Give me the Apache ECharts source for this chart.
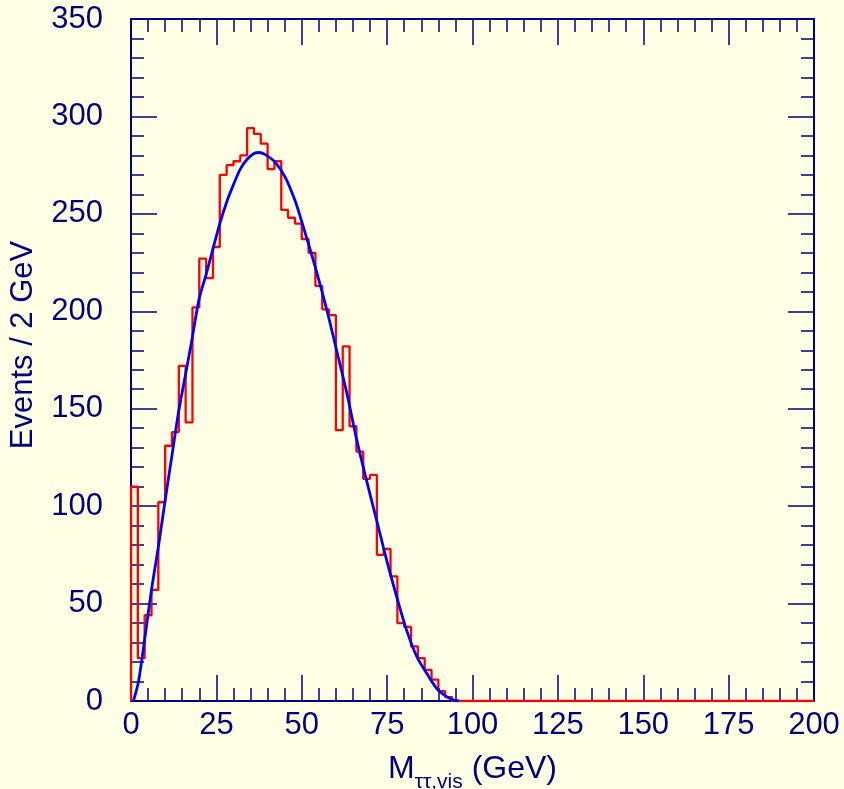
<!DOCTYPE html>
<html>
<head>
<meta charset="utf-8">
<script src="https://cdn.jsdelivr.net/npm/echarts@6/dist/echarts.min.js"></script>
<style>
html,body{margin:0;padding:0;background:#FFFFE5;}
#chart{width:844px;height:789px;}
</style>
</head>
<body>
<div id="chart"></div>
<script>
// Histogram: 2 GeV bins starting at 0 (counts per bin)
const binWidth = 2;
const counts = [
  110, 22, 44, 57, 102, 131, 138, 172, 143, 202,
  227, 217, 233, 270, 275, 277, 280, 294, 291, 286,
  273, 277, 252, 248, 245, 237, 230, 213, 201, 198,
  139, 182, 141, 128, 114, 116, 75, 78, 64, 40,
  38, 28, 22, 16, 11, 5, 2, 0, 0, 0,
  0, 0, 0, 0, 0, 0, 0, 0, 0, 0,
  0, 0, 0, 0, 0, 0, 0, 0, 0, 0,
  0, 0, 0, 0, 0, 0, 0, 0, 0, 0,
  0, 0, 0, 0, 0, 0, 0, 0, 0, 0,
  0, 0, 0, 0, 0, 0, 0, 0, 0, 0
];
// Fit curve points (x in GeV, y in events)
const fitX = [0.7, 2.2, 4.1, 6.0, 8.0, 10.0, 11.9, 13.9, 15.8, 17.8, 19.9, 22.0, 24.0, 26.0, 28.0, 30.0, 32.0, 34.0, 36.0, 37.5, 39.2, 42.2, 45.1, 48.0, 50.0, 53.9, 57.3, 60.2, 63.2, 66.1, 69.0, 71.9, 74.9, 77.8, 80.7, 83.7, 86.6, 89.5, 92.4, 94.4, 96.0];
const fitY = [0, 10, 33, 57, 79, 103, 125, 148, 166, 185, 206, 219, 232, 245, 256, 265, 273, 278, 281, 281.5, 280.5, 276.5, 269, 257, 246, 223, 201, 180, 158, 134, 113, 93, 72, 53.5, 36.4, 22.7, 14.2, 6.5, 2.2, 0.5, 0];

const xTicks = {min: 0, max: 200, interval: 25};
const yTicks = {min: 0, max: 350, interval: 50};

const navy = '#000080';
const font = 'Liberation Sans, Arial, Helvetica, sans-serif';
const labelSize = 31;

const histData = [[0, 0]];
counts.forEach((c, i) => histData.push([i * binWidth, c]));
histData.push([counts.length * binWidth, counts[counts.length - 1]]);
const fitData = fitX.map((x, i) => [x, fitY[i]]);

function axisCommon(showLabel, margin) {
  return {
    axisLine: {show: true, onZero: false, lineStyle: {color: navy, width: 2}},
    axisTick: {show: true, inside: true, length: 26, lineStyle: {color: navy, width: 1.5}},
    minorTick: {show: true, splitNumber: 5, length: 13, lineStyle: {color: navy, width: 1.5}},
    splitLine: {show: false},
    minorSplitLine: {show: false},
    axisLabel: {show: showLabel, color: navy, fontSize: labelSize, fontFamily: font, margin: margin || 8}
  };
}

const chart = echarts.init(document.getElementById('chart'), null, {renderer: 'canvas'});
chart.setOption({
  backgroundColor: '#FFFFE5',
  animation: false,
  grid: {left: 131, right: 30, top: 19, bottom: 88, containLabel: false, outerBoundsMode: 'none'},
  xAxis: [
    Object.assign({type: 'value', position: 'bottom', min: xTicks.min, max: xTicks.max, interval: xTicks.interval,
      name: '{m|M}{sub|ττ,vis}{m| (GeV)}', nameLocation: 'middle', nameGap: 60,
      nameTextStyle: {color: navy, fontFamily: font,
        rich: {
          m: {fontSize: 32, color: navy, fontFamily: font, lineHeight: 32, padding: [0, 0, 8, 0], verticalAlign: 'bottom'},
          sub: {fontSize: 21, color: navy, fontFamily: font, lineHeight: 21, verticalAlign: 'bottom'}
        }}
    }, axisCommon(true, 9)),
    Object.assign({type: 'value', position: 'top', min: xTicks.min, max: xTicks.max, interval: xTicks.interval}, axisCommon(false))
  ],
  yAxis: [
    Object.assign({type: 'value', position: 'left', min: yTicks.min, max: yTicks.max, interval: yTicks.interval,
      name: 'Events / 2 GeV', nameLocation: 'middle', nameGap: 92, nameRotate: 90,
      nameTextStyle: {color: navy, fontSize: 31, fontFamily: font, padding: [0, 0, 0, 30]}
    }, axisCommon(true, 28)),
    Object.assign({type: 'value', position: 'right', min: yTicks.min, max: yTicks.max, interval: yTicks.interval}, axisCommon(false))
  ],
  series: [
    {type: 'line', name: 'hist', data: histData, step: 'end', symbol: 'none',
      lineStyle: {color: '#ff0000', width: 2.3}, z: 1},
    {type: 'line', name: 'fit', data: fitData, smooth: 0.3, symbol: 'none',
      lineStyle: {color: '#0000ff', width: 2.8}, z: 3}
  ]
});
</script>
</body>
</html>
